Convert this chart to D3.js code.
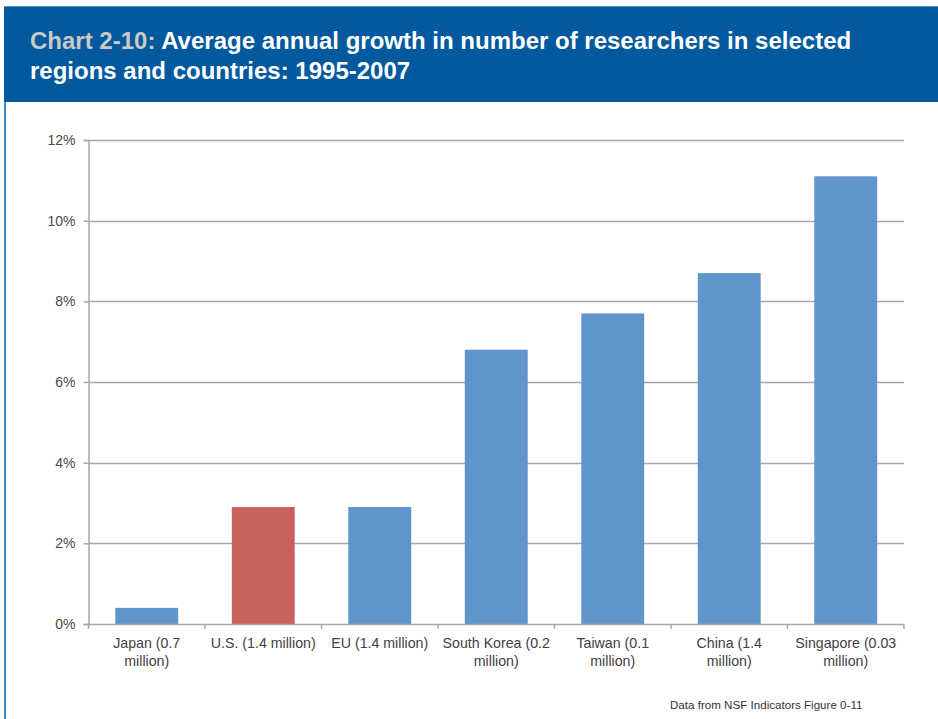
<!DOCTYPE html>
<html>
<head>
<meta charset="utf-8">
<script src="https://cdn.jsdelivr.net/npm/d3@7"></script>
<style>
  html, body { margin: 0; padding: 0; background: #fff; }
  svg { display: block; }
</style>
</head>
<body>
<svg id="chart" width="938" height="719"></svg>
<script>
const categories = [
  ["Japan (0.7", "million)"],
  ["U.S. (1.4 million)"],
  ["EU (1.4 million)"],
  ["South Korea (0.2", "million)"],
  ["Taiwan (0.1", "million)"],
  ["China (1.4", "million)"],
  ["Singapore (0.03", "million)"]
];
const values = [0.4, 2.9, 2.9, 6.8, 7.7, 8.7, 11.1];
const highlighted = [false, true, false, false, false, false, false];
const yTicks = [0, 2, 4, 6, 8, 10, 12];
const titlePrefix = "Chart 2-10:";
const titleLine1 = " Average annual growth in number of researchers in selected";
const titleLine2 = "regions and countries: 1995-2007";
const sourceNote = "Data from NSF Indicators Figure 0-11";

(function () {
const svg = d3.select("#chart");
const W = 938, H = 719;
const FONT = "'Liberation Sans', Arial, sans-serif";

// Header band
svg.append("rect").attr("x", 4).attr("y", 6).attr("width", W - 4).attr("height", 96).attr("fill", "#02599d");
svg.append("line").attr("x1", 4).attr("x2", W).attr("y1", 6.5).attr("y2", 6.5).attr("stroke", "#5b8fc4").attr("stroke-width", 1);
// Left border
svg.append("rect").attr("x", 4).attr("y", 102).attr("width", 2).attr("height", H - 102).attr("fill", "#4a87c9");

const title = svg.append("g").attr("font-family", FONT).attr("font-weight", "bold").attr("font-size", 24);
const t1 = title.append("text").attr("x", 30).attr("y", 49);
t1.append("tspan").attr("fill", "#c9c9c9").text(titlePrefix);
t1.append("tspan").attr("fill", "#ffffff").text(titleLine1);
title.append("text").attr("x", 30).attr("y", 79).attr("fill", "#ffffff").text(titleLine2);

// Plot
const pLeft = 88.5, pRight = 904, pTop = 140, pBottom = 624;
const x = d3.scaleBand().domain(d3.range(categories.length)).range([pLeft, pRight]).paddingInner(0.46).paddingOuter(0.23);
const y = d3.scaleLinear().domain([0, 12]).range([pBottom, pTop]);

// gridlines
svg.append("g").selectAll("line").data(yTicks.filter(d => d > 0)).join("line")
  .attr("x1", pLeft).attr("x2", pRight)
  .attr("y1", d => Math.round(y(d)) + 0.5).attr("y2", d => Math.round(y(d)) + 0.5)
  .attr("stroke", "#a8a8a8").attr("stroke-width", 1.5);

// bars
svg.append("g").selectAll("rect").data(values).join("rect")
  .attr("x", (d, i) => x(i)).attr("width", x.bandwidth())
  .attr("y", d => y(d)).attr("height", d => y(0) - y(d))
  .attr("fill", (d, i) => highlighted[i] ? "#c9625b" : "#5f95cb");

// y axis
const yAxis = d3.axisLeft(y).tickValues(yTicks).tickFormat(d => d + "%").tickSize(5).tickPadding(8);
const gy = svg.append("g").attr("transform", `translate(${pLeft},0)`).call(yAxis);
gy.select(".domain").attr("stroke", "#a8a8a8").attr("stroke-width", 1.5);
gy.selectAll(".tick line").attr("stroke", "#a8a8a8").attr("stroke-width", 1.5);
gy.selectAll(".tick text").attr("font-family", FONT).attr("font-size", 14).attr("fill", "#4a4a4a");

// x axis line and boundary ticks
const boundaries = d3.range(categories.length + 1).map(i => pLeft + i * x.step());
svg.append("line").attr("x1", pLeft).attr("x2", pRight).attr("y1", pBottom + 0.5).attr("y2", pBottom + 0.5).attr("stroke", "#a8a8a8").attr("stroke-width", 1.5);
svg.append("g").selectAll("line").data(boundaries).join("line")
  .attr("x1", d => d).attr("x2", d => d).attr("y1", pBottom).attr("y2", pBottom + 5)
  .attr("stroke", "#a8a8a8").attr("stroke-width", 1.5);

// x labels
const xl = svg.append("g").attr("font-family", FONT).attr("font-size", 14.2).attr("fill", "#3f3f3f").attr("text-anchor", "middle");
categories.forEach((lines, i) => {
  const cx = x(i) + x.bandwidth() / 2;
  const t = xl.append("text").attr("x", cx).attr("y", 648);
  lines.forEach((ln, j) => t.append("tspan").attr("x", cx).attr("dy", j === 0 ? 0 : 18).text(ln));
});

// source note
svg.append("text").attr("x", 670).attr("y", 709).attr("font-family", FONT).attr("font-size", 11.6).attr("fill", "#333").text(sourceNote);
})();
</script>
</body>
</html>
